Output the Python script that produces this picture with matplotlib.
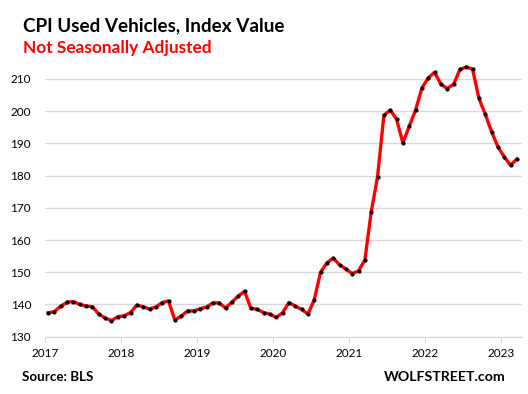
import matplotlib
matplotlib.use("Agg")
import matplotlib.pyplot as plt
import numpy as np

# Indice mensual, ene 2017 - mar 2023
valores_2017 = [137.4, 137.8, 139.5, 140.7, 140.9, 140.0, 139.5, 139.3, 137.0, 135.8, 135.0, 136.2]
valores_2018 = [136.5, 137.5, 139.8, 139.3, 138.6, 139.2, 140.6, 141.1, 135.2, 136.4, 138.0, 138.0]
valores_2019 = [138.7, 139.2, 140.5, 140.5, 138.9, 140.7, 142.6, 144.1, 138.8, 138.5, 137.5, 137.0]
valores_2020 = [136.0, 137.4, 140.6, 139.5, 138.5, 137.0, 141.4, 150.0, 152.9, 154.4, 152.3, 151.0]
valores_2021 = [149.6, 150.4, 153.8, 168.7, 179.6, 198.7, 200.3, 197.5, 190.1, 195.3, 200.3, 207.1]
valores_2022 = [210.3, 212.0, 208.3, 207.0, 208.3, 212.9, 213.7, 213.0, 204.0, 199.0, 193.6, 188.9]
valores_2023 = [185.8, 183.2, 185.1]

valores = valores_2017 + valores_2018 + valores_2019 + valores_2020 + valores_2021 + valores_2022 + valores_2023
anios = [2017, 2018, 2019, 2020, 2021, 2022, 2023]
y_ticks = [130, 140, 150, 160, 170, 180, 190, 200, 210]

# posicion de cada mes (mitad del mes)
x = 2017 + (np.arange(len(valores)) + 0.5) / 12

fuente = "Lato"
fig = plt.figure(figsize=(5.28, 3.94), dpi=100)
ax = fig.add_axes([0.0852, 0.1454, 0.9034, 0.7036])

ax.plot(x, valores, color="#ff0000", linewidth=2.4, zorder=3)
ax.plot(x, valores, linestyle="none", marker="o", markersize=2.0, color="black", zorder=4)

ax.set_xlim(2017, 2023 + 3.3 / 12)
ax.set_ylim(130, 216)
ax.set_yticks(y_ticks)
ax.set_xticks(anios)
ax.set_xticklabels([str(a) for a in anios], fontsize=8.5, family=fuente)
ax.set_yticklabels([str(v) for v in y_ticks], fontsize=8.5, family=fuente)
ax.yaxis.grid(True, color="#d9d9d9", linewidth=1)
ax.set_axisbelow(True)
for lado in ["left", "right", "top"]:
    ax.spines[lado].set_visible(False)
ax.spines["bottom"].set_color("#d9d9d9")
ax.tick_params(axis="y", length=0, pad=10)
ax.tick_params(axis="x", length=4, color="#d9d9d9", pad=4)

fig.text(0.044, 0.935, "CPI Used Vehicles, Index Value", fontsize=13.6, fontweight="bold",
         family=fuente, va="center")
fig.text(0.044, 0.877, "Not Seasonally Adjusted", fontsize=12.4, fontweight="bold",
         color="#ff0000", family=fuente, va="center")
fig.text(0.042, 0.043, "Source: BLS", fontsize=9.6, fontweight="bold", family=fuente, va="center")
fig.text(0.957, 0.043, "WOLFSTREET.com", fontsize=10.2, fontweight="bold", family=fuente,
         va="center", ha="right")

plt.savefig("out.png", dpi=100)
